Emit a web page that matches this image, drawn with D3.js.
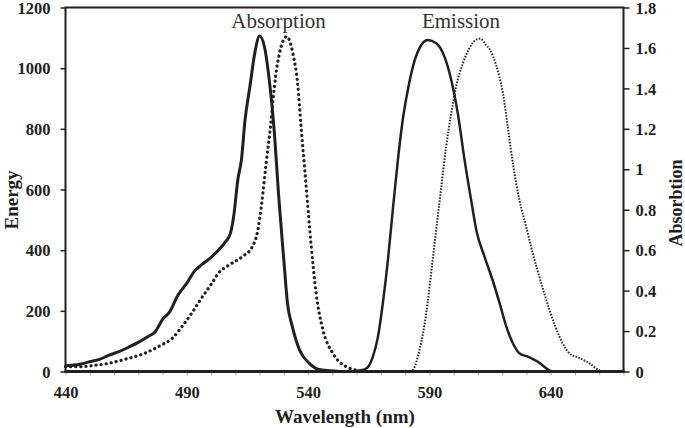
<!DOCTYPE html>
<html>
<head>
<meta charset="utf-8">
<script src="https://cdn.jsdelivr.net/npm/d3@7"></script>
<style>
  html, body { margin: 0; padding: 0; background: #fff; }
  svg { display: block; }
</style>
</head>
<body>
<svg id="chart" width="685" height="428"></svg>
<script>
// ---- data ----
const xTicks = [440, 490, 540, 590, 640];
const energyTicks = [0, 200, 400, 600, 800, 1000, 1200];
const absTicks = [0, 0.2, 0.4, 0.6, 0.8, 1, 1.2, 1.4, 1.6, 1.8];

// Absorption, solid (right axis, Absorbtion units)
const absSolidNm = [440, 446, 450, 454, 458, 462, 466, 470, 474, 477, 480, 483, 486, 490, 493, 496, 500, 503, 506, 508, 509.5, 511, 512.5, 514, 516, 518, 520, 522, 524, 526, 528, 530, 531.5, 533.5, 536.5, 540.5, 544.5, 549, 553];
const absSolidVal = [0.028, 0.036, 0.048, 0.060, 0.081, 0.098, 0.120, 0.144, 0.173, 0.197, 0.258, 0.296, 0.370, 0.437, 0.494, 0.527, 0.564, 0.600, 0.642, 0.684, 0.783, 0.946, 1.045, 1.243, 1.408, 1.573, 1.659, 1.606, 1.441, 1.194, 0.847, 0.550, 0.337, 0.222, 0.106, 0.040, 0.010, 0.004, 0];

// Absorption, dotted (right axis)
const absDotNm = [440, 446, 451, 458, 465, 472, 479, 484, 488, 492, 496, 500, 503, 507.5, 513, 517, 519.3, 520.7, 522.7, 524.8, 526.1, 528.2, 531.2, 533.7, 535.8, 537.1, 539.2, 541.3, 543.3, 546.1, 550.2, 555.7, 561];
const absDotVal = [0.024, 0.024, 0.029, 0.041, 0.062, 0.087, 0.128, 0.164, 0.222, 0.288, 0.362, 0.430, 0.486, 0.527, 0.569, 0.617, 0.700, 0.815, 1.029, 1.244, 1.409, 1.574, 1.656, 1.574, 1.409, 1.211, 0.914, 0.617, 0.387, 0.206, 0.090, 0.024, 0.005];

// Emission, solid (left axis, Energy)
const emSolidNm = [558, 561, 564, 566.7, 568.8, 570.8, 572.9, 574.9, 577, 579, 581.1, 583.2, 585.9, 589.3, 592.8, 596.2, 599, 601.7, 604.5, 607.2, 609.5, 612.7, 616.1, 618.9, 621.7, 624.4, 627.1, 630.6, 634.7, 638.8, 640.2];
const emSolidVal = [0, 3, 10, 49, 115, 225, 368, 532, 697, 829, 928, 1005, 1066, 1093, 1082, 1038, 961, 851, 697, 565, 460, 379, 300, 226, 148, 93, 60, 49, 32, 7, 0];

// Emission, dotted (left axis)
const emDotNm = [582, 583.2, 585.9, 588.7, 590.7, 592.8, 594.9, 596.9, 599, 601, 603.8, 606.5, 609.5, 611, 613.4, 615, 617.5, 620.3, 622.3, 624.4, 627.1, 629.9, 632.6, 636.1, 639.5, 643.6, 647.7, 651.9, 656, 660.1, 661];
const emDotVal = [0, 5, 71, 192, 324, 467, 609, 741, 851, 939, 1016, 1066, 1095, 1097, 1076, 1060, 1010, 917, 807, 686, 565, 477, 390, 291, 203, 115, 60, 44, 27, 3, 0];

// ---- layout ----
const svg = d3.select('#chart');
const L = 65.5, R = 623.5, T = 7.5, B = 371.5;
const ink = '#231f20';
const serif = '"Liberation Serif", "Times New Roman", Times, serif';

const x = d3.scaleLinear().domain([440, 670]).range([L, R]);
const yE = d3.scaleLinear().domain([0, 1200]).range([B, T]);
const yA = d3.scaleLinear().domain([0, 1.8]).range([B, T]);

const fmt = d => String(+(+d).toFixed(1));

// minor x ticks (every 10 nm), light gray, crossing the axis
const minor = d3.range(440, 671, 10);
svg.append('g')
  .attr('transform', `translate(0,${B - 2})`)
  .call(d3.axisBottom(x).tickValues(minor).tickSize(6).tickFormat(''))
  .call(g => g.select('.domain').remove())
  .call(g => g.selectAll('line').attr('stroke', '#aaa').attr('stroke-width', 1));

// bottom labels
svg.append('g')
  .attr('transform', `translate(0,${B})`)
  .call(d3.axisBottom(x).tickValues(xTicks).tickSize(0).tickPadding(15).tickFormat(d3.format('d')))
  .call(g => g.select('.domain').remove())
  .call(g => g.selectAll('text').attr('font-family', serif).attr('font-weight', 'bold')
    .attr('font-size', 16.5).attr('fill', ink));

// left axis
svg.append('g')
  .attr('transform', `translate(${L},0)`)
  .call(d3.axisLeft(yE).tickValues(energyTicks).tickSize(5).tickPadding(10).tickFormat(d3.format('d')))
  .call(g => g.select('.domain').remove())
  .call(g => g.selectAll('line').attr('stroke', ink).attr('stroke-width', 1.5))
  .call(g => g.selectAll('text').attr('font-family', serif).attr('font-weight', 'bold')
    .attr('font-size', 16.5).attr('fill', ink).attr('dy', '0.34em'));

// right axis
svg.append('g')
  .attr('transform', `translate(${R},0)`)
  .call(d3.axisRight(yA).tickValues(absTicks).tickSize(6).tickPadding(6).tickFormat(fmt))
  .call(g => g.select('.domain').remove())
  .call(g => g.selectAll('line').attr('stroke', ink).attr('stroke-width', 1.5))
  .call(g => g.selectAll('text').attr('font-family', serif).attr('font-weight', 'bold')
    .attr('font-size', 16.5).attr('fill', ink).attr('dy', '0.34em'));

// frame
svg.append('path')
  .attr('d', `M${L},${B} L${L},${T} L${R},${T} L${R},${B}`)
  .attr('fill', 'none').attr('stroke', ink).attr('stroke-width', 2);
svg.append('line')
  .attr('x1', L - 1).attr('x2', R + 1).attr('y1', B).attr('y2', B)
  .attr('stroke', ink).attr('stroke-width', 3);

// curves
const lineA = d3.line().x(d => x(d[0])).y(d => yA(d[1])).curve(d3.curveMonotoneX);
const lineE = d3.line().x(d => x(d[0])).y(d => yE(d[1])).curve(d3.curveMonotoneX);
const zip = (a, b) => a.map((v, i) => [v, b[i]]);

svg.append('path').datum(zip(absSolidNm, absSolidVal))
  .attr('d', lineA).attr('fill', 'none').attr('stroke', ink).attr('stroke-width', 3)
  .attr('stroke-linejoin', 'round');

svg.append('path').datum(zip(absDotNm, absDotVal))
  .attr('d', lineA).attr('fill', 'none').attr('stroke', ink).attr('stroke-width', 3.2)
  .attr('stroke-linecap', 'round').attr('stroke-dasharray', '0.1 5');

svg.append('path').datum(zip(emSolidNm, emSolidVal))
  .attr('d', lineE).attr('fill', 'none').attr('stroke', ink).attr('stroke-width', 2.5)
  .attr('stroke-linejoin', 'round');

svg.append('path').datum(zip(emDotNm, emDotVal))
  .attr('d', lineE).attr('fill', 'none').attr('stroke', ink).attr('stroke-width', 2)
  .attr('stroke-dasharray', '1.5 1.5');

// annotations
svg.append('text').attr('x', 278.5).attr('y', 28).attr('text-anchor', 'middle')
  .attr('font-family', serif).attr('font-size', 21).attr('fill', '#333').text('Absorption');
svg.append('text').attr('x', 461).attr('y', 28).attr('text-anchor', 'middle')
  .attr('font-family', serif).attr('font-size', 21).attr('fill', '#333').text('Emission');

// axis titles
svg.append('text').attr('x', 345).attr('y', 423).attr('text-anchor', 'middle')
  .attr('font-family', serif).attr('font-weight', 'bold').attr('font-size', 19).attr('fill', ink)
  .text('Wavelength (nm)');
svg.append('text').attr('transform', 'translate(18,200) rotate(-90)').attr('text-anchor', 'middle')
  .attr('font-family', serif).attr('font-weight', 'bold').attr('font-size', 19).attr('fill', ink)
  .text('Energy');
svg.append('text').attr('transform', 'translate(682,203) rotate(-90)').attr('text-anchor', 'middle')
  .attr('font-family', serif).attr('font-weight', 'bold').attr('font-size', 18).attr('fill', ink)
  .text('Absorbtion');
</script>
</body>
</html>
